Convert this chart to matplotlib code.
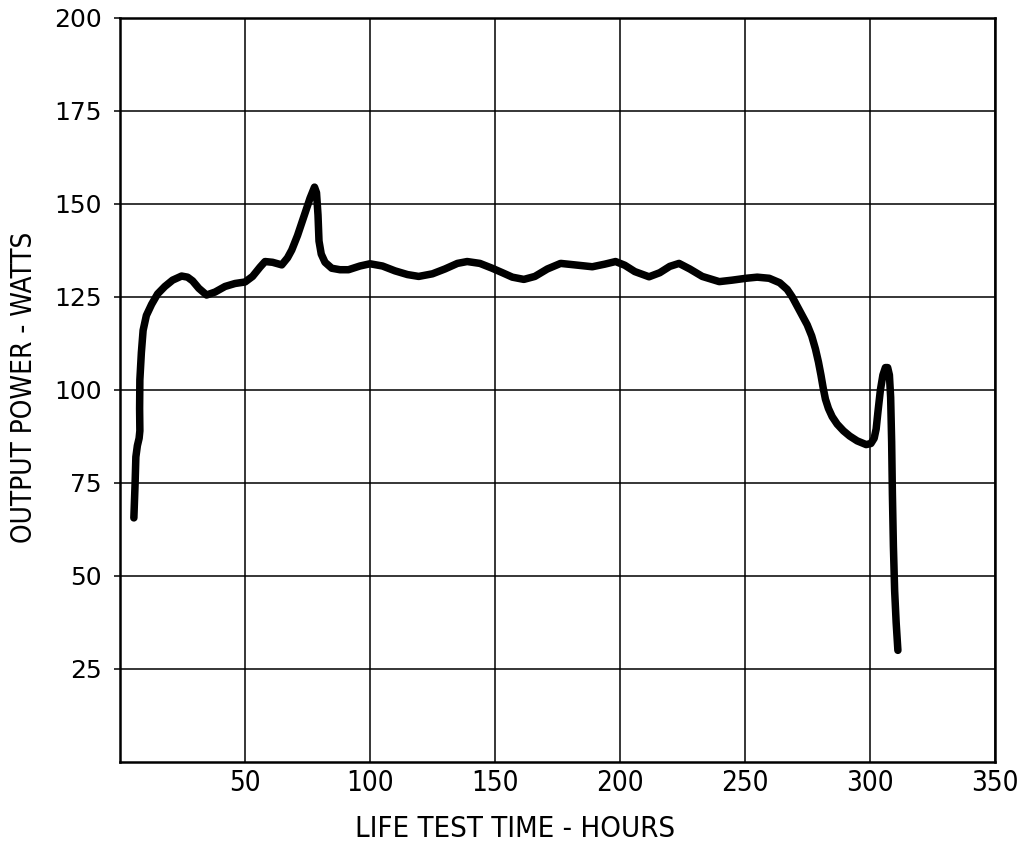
import matplotlib
matplotlib.use("Agg")
import matplotlib.pyplot as plt

# Life test record: output power versus elapsed hours
hours = [5.5, 6.0, 6.3, 6.9, 7.6, 7.9, 7.8, 7.9, 8.5, 9.2, 10.5, 12.6, 15.0, 17.9,
         21.0, 24.6, 27.0, 29.0, 31.5, 34.6, 38.0, 42.0, 46.0, 50.0, 53.0,
         56.0, 58.0, 61.0, 64.7, 67.0, 68.7, 71.0, 73.5, 76.0, 77.8, 78.6,
         79.2, 79.6, 80.5, 82.0, 84.7, 88.0, 91.4, 96.0, 100.0, 105.0, 110.0,
         115.0, 119.5, 125.0, 130.0, 135.0, 138.9, 144.0, 148.9, 153.0, 157.0,
         161.6, 166.0, 171.0, 176.3, 182.0, 189.0, 194.0, 198.3, 202.0, 206.0,
         211.7, 216.0, 220.0, 223.7, 228.0, 233.0, 239.8, 245.0, 250.5, 255.0,
         259.8, 264.0, 267.0, 269.0, 271.0, 273.0, 275.0, 276.8, 278.3, 279.5,
         280.5, 281.4, 282.3, 283.5, 285.0, 287.0, 289.5, 292.0, 295.0, 298.6,
         300.5, 301.8, 302.6, 303.3, 304.3, 305.3, 306.3, 307.2, 307.9, 308.4,
         308.8, 309.1, 309.5, 310.0, 310.6, 311.3]
power = [65.6, 75.0, 82.0, 85.0, 87.0, 89.0, 95.0, 102.7, 110.0, 116.0, 120.0, 123.0,
         125.8, 127.8, 129.5, 130.6, 130.3, 129.3, 127.3, 125.5, 126.3, 127.8,
         128.6, 129.0, 130.5, 133.0, 134.5, 134.3, 133.6, 135.5, 137.6, 141.5,
         146.5, 151.5, 154.5, 153.0, 147.0, 140.0, 136.5, 134.3, 132.7, 132.3,
         132.3, 133.3, 133.9, 133.3, 132.0, 131.0, 130.5, 131.2, 132.5, 134.0,
         134.5, 134.0, 132.7, 131.5, 130.3, 129.7, 130.5, 132.5, 134.0, 133.6,
         133.1, 133.8, 134.5, 133.5, 131.8, 130.4, 131.5, 133.2, 134.0, 132.5,
         130.5, 129.1, 129.5, 130.0, 130.3, 130.0, 128.8, 127.0, 125.0, 122.5,
         120.0, 117.5, 114.5, 111.0, 107.5, 104.0, 100.5, 97.5, 95.0, 92.8,
         90.8, 89.0, 87.6, 86.3, 85.3, 85.6, 87.0, 89.5, 94.0, 100.0, 104.0,
         106.0, 106.0, 104.0, 98.0, 86.0, 72.0, 58.0, 46.0, 37.5, 30.0]

x_ticks = [50, 100, 150, 200, 250, 300, 350]
y_ticks = [25, 50, 75, 100, 125, 150, 175, 200]

narrow = dict(fontfamily="DejaVu Sans", fontstretch="condensed")

fig = plt.figure(figsize=(10.18, 8.49), dpi=100)
ax = fig.add_axes([0.118, 0.1025, 0.859, 0.8765])

ax.plot(hours, power, color="black", linewidth=5.4,
        solid_capstyle="round", solid_joinstyle="round", zorder=3)

ax.set_xlim(0, 350)
ax.set_ylim(0, 200)
ax.set_xticks(x_ticks)
ax.set_yticks(y_ticks)
ax.grid(True, color="black", linewidth=1.1)
for s in ax.spines.values():
    s.set_linewidth(1.8)
    s.set_color("black")

ax.tick_params(axis="x", length=0, pad=5)
ax.tick_params(axis="y", direction="out", length=4, width=1.1, pad=9)
ax.set_xticklabels([str(v) for v in x_ticks], fontsize=20, **narrow)
ax.set_yticklabels([str(v) for v in y_ticks], fontsize=18, fontfamily="DejaVu Sans")

fig.text(515 / 1018, 1 - 829 / 849, "LIFE TEST TIME - HOURS", ha="center", va="center",
         fontsize=21, **narrow)
fig.text(24 / 1018, 1 - 387 / 849, "OUTPUT POWER - WATTS", ha="center", va="center",
         rotation=90, fontsize=20, **narrow)

fig.savefig("out.png", dpi=100, facecolor="white")
